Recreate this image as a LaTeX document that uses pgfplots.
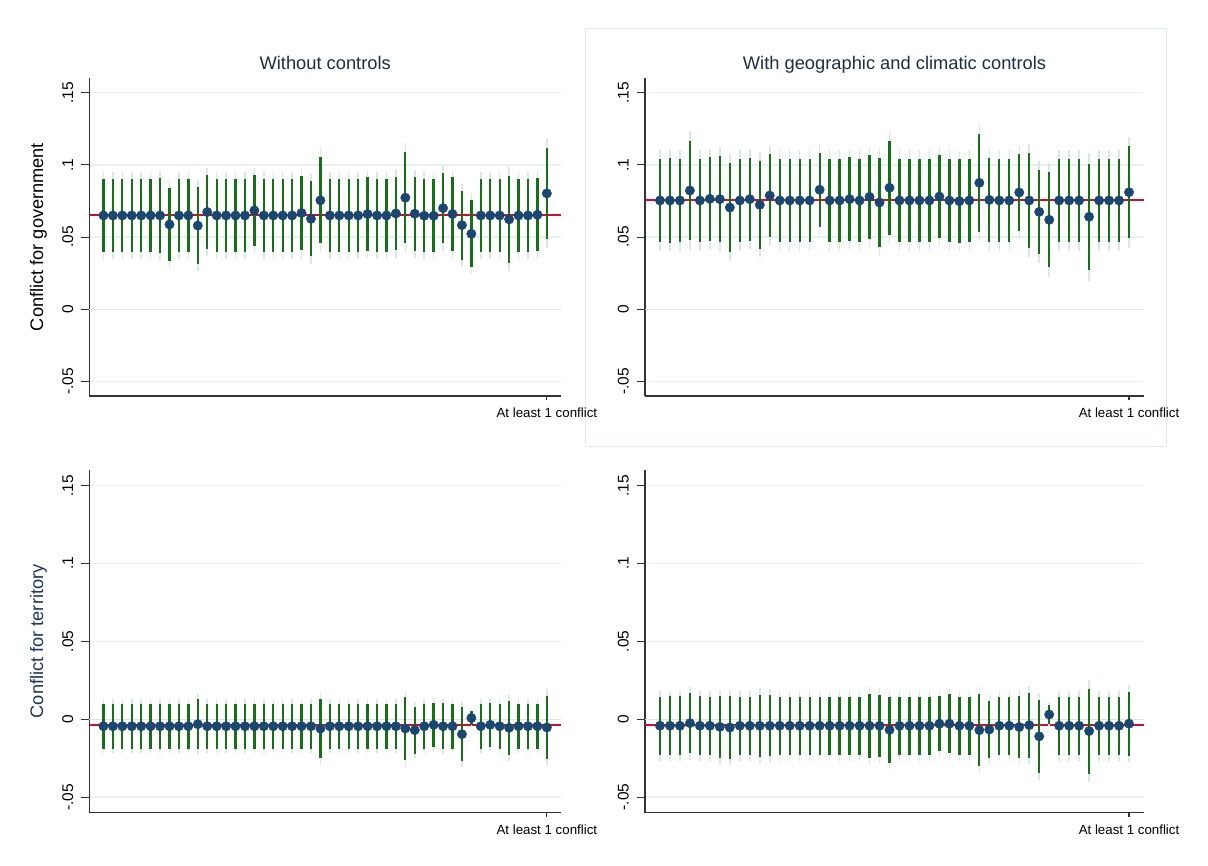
\documentclass[border=0pt]{standalone}
\usepackage{fontspec}
\setmainfont{Liberation Sans}
\usepackage{pgfplots}
\usepackage{pgfplotstable}
\pgfplotsset{compat=1.18}

\definecolor{dotnavy}{RGB}{26,71,111}
\definecolor{cigreen}{RGB}{22,112,22}
\definecolor{ciouter}{RGB}{222,228,233}
\definecolor{refred}{RGB}{210,10,45}
\definecolor{gridc}{RGB}{232,240,242}
\definecolor{zeroc}{RGB}{226,226,226}
\definecolor{titlec}{RGB}{30,45,70}
\definecolor{labnavy}{RGB}{28,52,92}
\definecolor{boxc}{RGB}{226,237,240}

% columns: position, estimate, inner half-width, outer half-width
\pgfplotstableread{
x y e E
1 .065 .0252 .0302
2 .065 .0252 .0302
3 .065 .0252 .0302
4 .065 .0252 .0302
5 .065 .0252 .0302
6 .065 .0252 .0302
7 .065 .0258 .0310
8 .0588 .0251 .0301
9 .065 .0252 .0302
10 .065 .0250 .0300
11 .058 .0264 .0317
12 .0674 .0255 .0306
13 .065 .0252 .0302
14 .065 .0252 .0302
15 .065 .0252 .0302
16 .065 .0252 .0302
17 .0685 .0245 .0294
18 .065 .0252 .0302
19 .065 .0252 .0302
20 .065 .0252 .0302
21 .065 .0252 .0302
22 .0667 .0257 .0308
23 .0627 .0260 .0312
24 .0755 .0299 .0359
25 .065 .0252 .0302
26 .065 .0252 .0302
27 .065 .0252 .0302
28 .065 .0252 .0302
29 .066 .0253 .0304
30 .065 .0252 .0302
31 .065 .0252 .0302
32 .0664 .0254 .0305
33 .0773 .0315 .0378
34 .0662 .0255 .0306
35 .0648 .0252 .0302
36 .0648 .0252 .0302
37 .0701 .0245 .0294
38 .066 .0255 .0306
39 .0583 .0238 .0286
40 .0523 .0233 .0280
41 .065 .0252 .0302
42 .065 .0252 .0302
43 .065 .0252 .0302
44 .0623 .0300 .0360
45 .065 .0252 .0302
46 .065 .0252 .0302
47 .0655 .0253 .0304
48 .0803 .0315 .0378
}\govnoctrl

\pgfplotstableread{
x y e E
1 .0754 .0290 .0348
2 .0754 .0292 .0350
3 .0754 .0290 .0348
4 .0823 .0341 .0409
5 .0754 .0290 .0348
6 .0765 .0290 .0348
7 .0763 .0300 .0360
8 .0705 .0308 .0370
9 .0754 .0290 .0348
10 .0763 .0287 .0344
11 .0724 .0303 .0364
12 .0788 .0288 .0346
13 .0754 .0290 .0348
14 .0754 .0290 .0348
15 .0754 .0290 .0348
16 .0754 .0290 .0348
17 .0828 .0256 .0307
18 .0754 .0290 .0348
19 .0754 .0290 .0348
20 .0763 .0290 .0348
21 .0754 .0290 .0348
22 .0779 .0290 .0348
23 .0740 .0310 .0372
24 .0842 .0325 .0390
25 .0754 .0290 .0348
26 .0754 .0290 .0348
27 .0754 .0290 .0348
28 .0754 .0290 .0348
29 .0781 .0286 .0343
30 .0754 .0290 .0348
31 .0749 .0290 .0348
32 .0754 .0290 .0348
33 .0876 .0338 .0406
34 .0758 .0290 .0348
35 .0754 .0290 .0348
36 .0754 .0290 .0348
37 .0809 .0266 .0319
38 .0754 .0328 .0394
39 .0675 .0293 .0352
40 .0620 .0328 .0394
41 .0754 .0290 .0348
42 .0754 .0290 .0348
43 .0754 .0290 .0348
44 .0641 .0368 .0442
45 .0754 .0290 .0348
46 .0754 .0290 .0348
47 .0754 .0290 .0348
48 .0811 .0320 .0384
}\govctrl

\pgfplotstableread{
x y e E
1 -.0045 .0143 .0172
2 -.0045 .0143 .0172
3 -.0045 .0143 .0172
4 -.0045 .0143 .0172
5 -.0045 .0143 .0172
6 -.0045 .0143 .0172
7 -.0045 .0143 .0172
8 -.0045 .0143 .0172
9 -.0045 .0143 .0172
10 -.0045 .0143 .0172
11 -.0032 .0161 .0193
12 -.0045 .0143 .0172
13 -.0045 .0143 .0172
14 -.0045 .0143 .0172
15 -.0045 .0143 .0172
16 -.0045 .0143 .0172
17 -.0045 .0143 .0172
18 -.0045 .0143 .0172
19 -.0045 .0143 .0172
20 -.0045 .0143 .0172
21 -.0045 .0143 .0172
22 -.0045 .0143 .0172
23 -.0045 .0143 .0172
24 -.0060 .0188 .0226
25 -.0045 .0143 .0172
26 -.0045 .0143 .0172
27 -.0045 .0143 .0172
28 -.0045 .0143 .0172
29 -.0045 .0143 .0172
30 -.0045 .0143 .0172
31 -.0045 .0143 .0172
32 -.0045 .0143 .0172
33 -.0059 .0202 .0242
34 -.0070 .0151 .0181
35 -.0045 .0143 .0172
36 -.0036 .0142 .0170
37 -.0045 .0148 .0178
38 -.0045 .0143 .0172
39 -.0096 .0173 .0208
40 .0008 .0047 .0056
41 -.0045 .0143 .0172
42 -.0036 .0142 .0170
43 -.0045 .0143 .0172
44 -.0055 .0175 .0210
45 -.0045 .0143 .0172
46 -.0045 .0143 .0172
47 -.0045 .0143 .0172
48 -.0053 .0204 .0245
}\ternoctrl

\pgfplotstableread{
x y e E
1 -.0042 .0186 .0223
2 -.0042 .0188 .0226
3 -.0042 .0188 .0226
4 -.0025 .0195 .0234
5 -.0042 .0188 .0226
6 -.0042 .0186 .0223
7 -.0049 .0199 .0239
8 -.0053 .0202 .0242
9 -.0042 .0186 .0223
10 -.0042 .0186 .0223
11 -.0042 .0200 .0240
12 -.0042 .0195 .0234
13 -.0042 .0186 .0223
14 -.0042 .0186 .0223
15 -.0042 .0186 .0223
16 -.0042 .0186 .0223
17 -.0042 .0186 .0223
18 -.0042 .0186 .0223
19 -.0042 .0186 .0223
20 -.0042 .0186 .0223
21 -.0042 .0186 .0223
22 -.0042 .0206 .0247
23 -.0042 .0200 .0240
24 -.0068 .0210 .0252
25 -.0042 .0186 .0223
26 -.0042 .0186 .0223
27 -.0042 .0186 .0223
28 -.0042 .0186 .0223
29 -.0029 .0176 .0211
30 -.0029 .0188 .0226
31 -.0042 .0186 .0223
32 -.0042 .0186 .0223
33 -.0070 .0231 .0277
34 -.0066 .0183 .0220
35 -.0042 .0186 .0223
36 -.0042 .0186 .0223
37 -.0050 .0197 .0236
38 -.0038 .0208 .0250
39 -.0110 .0234 .0281
40 .0030 .0062 .0074
41 -.0042 .0186 .0223
42 -.0042 .0186 .0223
43 -.0042 .0186 .0223
44 -.0076 .0273 .0328
45 -.0042 .0186 .0223
46 -.0042 .0186 .0223
47 -.0042 .0186 .0223
48 -.0029 .0207 .0248
}\terctrl

\pgfplotsset{
  coefpanel/.style={
    scale only axis,
    xmin=-0.5, xmax=49.5, ymin=-0.06, ymax=0.16,
    axis lines*=left,
    axis line style={line width=1.1pt, draw=black!80},
    xtick={48}, xticklabels={At least 1 conflict},
    ytick={-0.05,0,0.05,0.1,0.15},
    yticklabels={-.05,0,.05,.1,.15},
    tick align=outside, major tick length=8pt,
    tick style={line width=1.1pt, draw=black!80},
    xtick style={/pgfplots/major tick length=4pt},
    ymajorgrids,
    grid style={line width=1.3pt, draw=gridc},
    extra y ticks={0}, extra y tick labels={},
    extra y tick style={grid style={line width=1.3pt, draw=zeroc}},
    yticklabel style={rotate=90, anchor=base, inner sep=0pt,
      font=\fontsize{15.5}{16}\selectfont},
    yticklabel shift=8.3pt,
    xticklabel style={anchor=north, inner sep=0pt,
      font=\fontsize{13.3}{14}\selectfont},
    xticklabel shift=3.5pt,
  },
  outerci/.style={forget plot, mark=none, draw=none,
    error bars/.cd, y dir=both, y explicit, error mark=none,
    error bar style={draw=ciouter, line width=1.5pt}},
  innerci/.style={forget plot, mark=none, draw=none,
    error bars/.cd, y dir=both, y explicit, error mark=none,
    error bar style={draw=cigreen, line width=2.3pt}},
  estdot/.style={forget plot, only marks, mark=*, mark size=4.7pt,
    mark options={draw=dotnavy, fill=dotnavy}},
  refline/.style={forget plot, color=refred, draw=refred, line width=2pt, mark=none},
}

\begin{document}
\begin{tikzpicture}[x=1pt,y=1pt]
\path[use as bounding box] (0,0) rectangle (1208,866);

% frame around the upper right panel
\draw[boxc, line width=1pt] (585,419) rectangle (1166,837);

% upper left: government, no controls
\begin{axis}[coefpanel, at={(89.3pt,470pt)}, anchor=south west,
  width=471.7pt, height=317.7pt]
\addplot[refline] coordinates {(-0.5,.065) (49.5,.065)};
\addplot[outerci] table[x=x,y=y,y error=E] {\govnoctrl};
\addplot[innerci] table[x=x,y=y,y error=e] {\govnoctrl};
\addplot[estdot] table[x=x,y=y] {\govnoctrl};
\end{axis}

% upper right: government, geographic and climatic controls
\begin{axis}[coefpanel, at={(645pt,470pt)}, anchor=south west,
  width=499pt, height=317.7pt]
\addplot[refline] coordinates {(-0.5,.0754) (49.5,.0754)};
\addplot[outerci] table[x=x,y=y,y error=E] {\govctrl};
\addplot[innerci] table[x=x,y=y,y error=e] {\govctrl};
\addplot[estdot] table[x=x,y=y] {\govctrl};
\end{axis}

% lower left: territory, no controls
\begin{axis}[coefpanel, at={(89.3pt,53.3pt)}, anchor=south west,
  width=471.7pt, height=342.7pt]
\addplot[refline] coordinates {(-0.5,-.004) (49.5,-.004)};
\addplot[outerci] table[x=x,y=y,y error=E] {\ternoctrl};
\addplot[innerci] table[x=x,y=y,y error=e] {\ternoctrl};
\addplot[estdot] table[x=x,y=y] {\ternoctrl};
\end{axis}

% lower right: territory, geographic and climatic controls
\begin{axis}[coefpanel, at={(645pt,53.3pt)}, anchor=south west,
  width=499pt, height=342.7pt]
\addplot[refline] coordinates {(-0.5,-.004) (49.5,-.004)};
\addplot[outerci] table[x=x,y=y,y error=E] {\terctrl};
\addplot[innerci] table[x=x,y=y,y error=e] {\terctrl};
\addplot[estdot] table[x=x,y=y] {\terctrl};
\end{axis}

% column titles
\node[anchor=base, text=titlec, font=\fontsize{18.3}{20}\selectfont]
  at (325.2,796) {Without controls};
\node[anchor=base, text=titlec, font=\fontsize{18.3}{20}\selectfont]
  at (894.5,796) {With geographic and climatic controls};

% row labels
\node[anchor=base, rotate=90, text=black, font=\fontsize{18.2}{20}\selectfont]
  at (43,629) {Conflict for government};
\node[anchor=base, rotate=90, text=labnavy, font=\fontsize{18.2}{20}\selectfont]
  at (43,224.6) {Conflict for territory};
\end{tikzpicture}
\end{document}
